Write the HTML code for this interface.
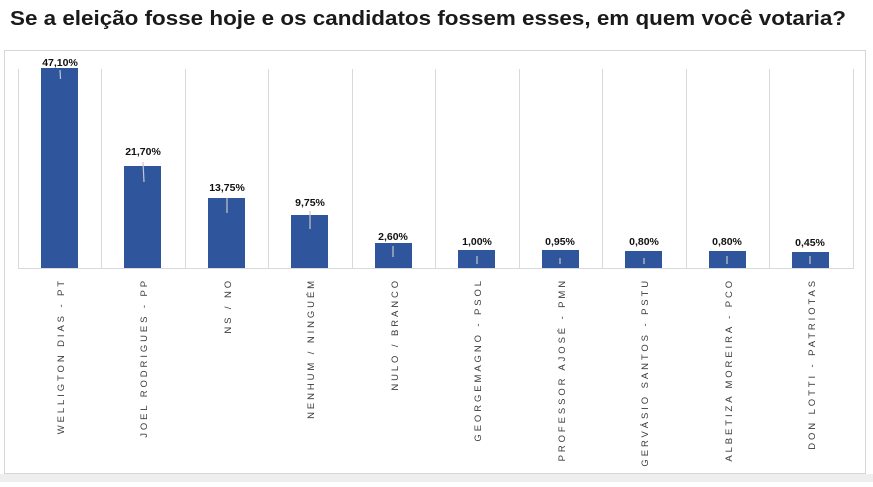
<!DOCTYPE html>
<html><head><meta charset="utf-8"><style>
body{margin:0;width:873px;height:482px;background:#fff;overflow:hidden;font-family:"Liberation Sans",sans-serif;}
</style></head><body>
<svg width="873" height="482" xmlns="http://www.w3.org/2000/svg">
<rect x="0" y="0" width="873" height="482" fill="#fff"/>
<rect x="0" y="474" width="873" height="8" fill="#eeeeee"/>
<text x="10" y="25" font-family="Liberation Sans, sans-serif" font-weight="bold" font-size="20" fill="#1a1a1a" textLength="836" lengthAdjust="spacingAndGlyphs">Se a eleição fosse hoje e os candidatos fossem esses, em quem você votaria?</text>
<rect x="4.5" y="50.5" width="861" height="423" fill="#fff" stroke="#d6d6d6"/>
<g stroke="#d9d9d9" stroke-width="1">
<line x1="18.5" y1="69" x2="18.5" y2="268"/><line x1="101.5" y1="69" x2="101.5" y2="268"/><line x1="185.5" y1="69" x2="185.5" y2="268"/><line x1="268.5" y1="69" x2="268.5" y2="268"/><line x1="352.5" y1="69" x2="352.5" y2="268"/><line x1="435.5" y1="69" x2="435.5" y2="268"/><line x1="519.5" y1="69" x2="519.5" y2="268"/><line x1="602.5" y1="69" x2="602.5" y2="268"/><line x1="686.5" y1="69" x2="686.5" y2="268"/><line x1="769.5" y1="69" x2="769.5" y2="268"/><line x1="853.5" y1="69" x2="853.5" y2="268"/>
<line x1="18" y1="268.5" x2="854" y2="268.5"/>
</g>
<g fill="#2f559d">
<rect x="41" y="68" width="37" height="200"/>
<rect x="124" y="166" width="37" height="102"/>
<rect x="208" y="198" width="37" height="70"/>
<rect x="291" y="215" width="37" height="53"/>
<rect x="375" y="243" width="37" height="25"/>
<rect x="458" y="250" width="37" height="18"/>
<rect x="542" y="250" width="37" height="18"/>
<rect x="625" y="251" width="37" height="17"/>
<rect x="709" y="251" width="37" height="17"/>
<rect x="792" y="252" width="37" height="16"/>
</g>
<g stroke="#c8c8c8" stroke-width="1.2">
<line x1="60" y1="70" x2="60.5" y2="79"/><line x1="143" y1="162" x2="144" y2="182"/><line x1="227" y1="198" x2="227" y2="213"/><line x1="310" y1="211" x2="310" y2="229"/><line x1="393" y1="246" x2="393" y2="257"/>
<line x1="477" y1="256" x2="477" y2="264"/><line x1="560" y1="258" x2="560" y2="264"/><line x1="644" y1="258" x2="644" y2="264"/><line x1="727" y1="256" x2="727" y2="264"/><line x1="810" y1="256" x2="810" y2="264"/>
</g>
<g font-family="Liberation Sans, sans-serif" font-size="10.5" fill="#111" text-anchor="middle" font-weight="bold">
<text x="60" y="66">47,10%</text><text x="143" y="155">21,70%</text><text x="227" y="191">13,75%</text><text x="310" y="206">9,75%</text><text x="393" y="240">2,60%</text><text x="477" y="245">1,00%</text><text x="560" y="245">0,95%</text><text x="644" y="245">0,80%</text><text x="727" y="245">0,80%</text><text x="810" y="246">0,45%</text>
</g>
<g font-family="Liberation Sans, sans-serif" font-size="9.5" fill="#3a3a3a" text-anchor="end" letter-spacing="2.9">
<text transform="translate(64,278) rotate(-90)">WELLIGTON DIAS - PT</text>
<text transform="translate(147,278) rotate(-90)">JOEL RODRIGUES - PP</text>
<text transform="translate(231,278) rotate(-90)">NS / NO</text>
<text transform="translate(314,278) rotate(-90)">NENHUM / NINGUÉM</text>
<text transform="translate(398,278) rotate(-90)">NULO / BRANCO</text>
<text transform="translate(481,278) rotate(-90)">GEORGEMAGNO - PSOL</text>
<text transform="translate(565,278) rotate(-90)">PROFESSOR AJOSÉ - PMN</text>
<text transform="translate(648,278) rotate(-90)">GERVÁSIO SANTOS - PSTU</text>
<text transform="translate(732,278) rotate(-90)">ALBETIZA MOREIRA - PCO</text>
<text transform="translate(815,278) rotate(-90)">DON LOTTI - PATRIOTAS</text>
</g>
</svg>
</body></html>
